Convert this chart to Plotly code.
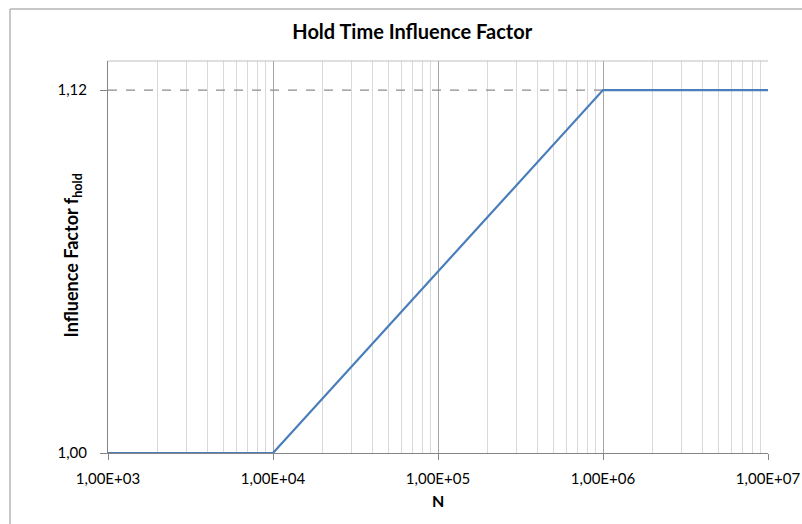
import plotly.graph_objects as go

# hold time influence curve
n_cycles = [1e3, 1e4, 1e6, 1e7]
f_hold = [1.00, 1.00, 1.12, 1.12]

# reference level
ref_n = [1e3, 1e7]
ref_f = [1.12, 1.12]

x_tick_vals = [1e3, 1e4, 1e5, 1e6, 1e7]
x_tick_text = ["1,00E+03", "1,00E+04", "1,00E+05", "1,00E+06", "1,00E+07"]
y_tick_vals = [1.00, 1.12]
y_tick_text = ["1,00", "1,12"]

font = "Lato, 'Open Sans', sans-serif"

fig = go.Figure()

fig.add_trace(go.Scatter(
    x=ref_n,
    y=ref_f,
    mode="lines",
    line=dict(color="#8c8c8c", width=1.2, dash="dash"),
    cliponaxis=False,
    showlegend=False
))

fig.add_trace(go.Scatter(
    x=n_cycles,
    y=f_hold,
    mode="lines",
    line=dict(color="#4a7ebb", width=2.2),
    cliponaxis=False,
    showlegend=False
))

fig.update_xaxes(
    type="log",
    range=[3, 7],
    tickvals=x_tick_vals,
    ticktext=x_tick_text,
    showgrid=True,
    gridcolor="#a6a6a6",
    gridwidth=1,
    showline=True,
    linecolor="#868686",
    linewidth=1,
    ticks="outside",
    ticklen=6,
    tickcolor="#868686",
    ticklabelstandoff=6,
    tickfont=dict(size=15, color="#000000"),
    minor=dict(dtick="D1", showgrid=True, gridcolor="#d9d9d9", gridwidth=1, ticks=""),
    zeroline=False,
    automargin=False
)

fig.update_yaxes(
    range=[1.0, 1.1296],
    tickvals=y_tick_vals,
    ticktext=y_tick_text,
    showgrid=False,
    showline=True,
    linecolor="#868686",
    linewidth=1,
    ticks="outside",
    ticklen=7,
    tickcolor="#868686",
    ticklabelstandoff=10,
    tickfont=dict(size=15, color="#000000"),
    zeroline=False,
    automargin=False
)

# chart frame and plot area top edge
fig.add_shape(type="line", xref="paper", yref="paper",
              x0=-0.1485, x1=-0.1485, y0=1.1327, y1=-0.3,
              line=dict(color="#b4b4b4", width=1.5))
fig.add_shape(type="line", xref="paper", yref="paper",
              x0=-0.1485, x1=1.1, y0=1.1327, y1=1.1327,
              line=dict(color="#b4b4b4", width=1.5))
fig.add_shape(type="line", xref="paper", yref="paper",
              x0=0, x1=1, y0=1, y1=1,
              line=dict(color="#bfbfbf", width=1))

fig.add_annotation(
    text="<b>Influence Factor f<sub>hold</sub></b>",
    xref="paper", yref="paper",
    x=-0.076, y=0.505,
    textangle=-90,
    showarrow=False,
    font=dict(size=18, color="#000000")
)

fig.add_annotation(
    text="<b>N</b>",
    xref="paper", yref="paper",
    x=0.5, y=-0.12,
    yanchor="middle",
    showarrow=False,
    font=dict(size=16, color="#000000")
)

fig.update_layout(
    width=802,
    height=524,
    margin=dict(l=108, r=34, t=61, b=71),
    title=dict(
        text="<b>Hold Time Influence Factor</b>",
        x=0.514, xref="container", xanchor="center",
        y=0.939, yref="container", yanchor="middle",
        font=dict(size=20, color="#000000")
    ),
    font=dict(family=font, color="#000000"),
    paper_bgcolor="#ffffff",
    plot_bgcolor="#ffffff"
)

# drop the page's default body margin so the figure fills the window
fig.write_html(
    "out.html",
    config={"displayModeBar": False},
    post_script="document.body.style.margin='0';"
)
